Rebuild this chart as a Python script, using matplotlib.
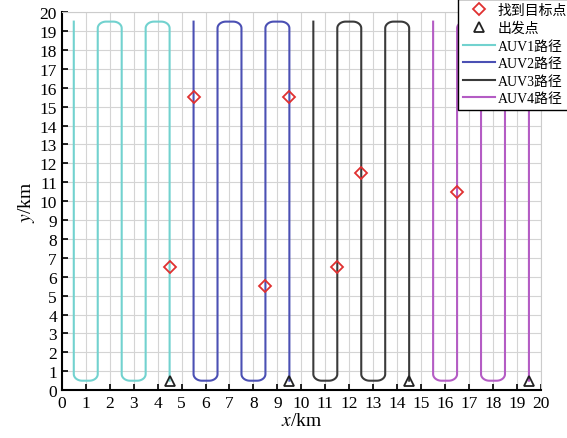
import numpy as np
import matplotlib
matplotlib.use("Agg")
import matplotlib.pyplot as plt

plt.rcParams['font.family'] = ['Liberation Serif', 'Noto Sans CJK SC']
plt.rcParams['mathtext.fontset'] = 'stix'

# sweep lanes of each AUV (km), listed from the start lane
lanes = {
    'AUV1路径': [4.5, 3.5, 2.5, 1.5, 0.5],
    'AUV2路径': [9.5, 8.5, 7.5, 6.5, 5.5],
    'AUV3路径': [14.5, 13.5, 12.5, 11.5, 10.5],
    'AUV4路径': [19.5, 18.5, 17.5, 16.5, 15.5],
}
colors = ['#72d2cf', '#4b50b4', '#3a3a3a', '#b45cc4']
y_low, y_high = 0.5, 19.5

target_x = [4.5, 5.5, 9.5, 8.5, 11.5, 12.5, 16.5]
target_y = [6.5, 15.5, 15.5, 5.5, 6.5, 11.5, 10.5]
start_x = [4.5, 9.5, 14.5, 19.5]
start_y = [0.5, 0.5, 0.5, 0.5]


def sweep_path(xs, r=0.35):
    px, py = [xs[0]], [y_low]
    going_up = True
    for i in range(len(xs) - 1):
        x0, x1 = xs[i], xs[i + 1]
        d = np.sign(x1 - x0)
        t = np.linspace(0, np.pi / 2, 15)
        if going_up:
            yc = y_high - r
            px += list(x0 + d * r - d * r * np.cos(t))
            py += list(yc + r * np.sin(t))
            px += list(x1 - d * r + d * r * np.sin(t))
            py += list(yc + r * np.cos(t))
        else:
            yc = y_low + r
            px += list(x0 + d * r - d * r * np.cos(t))
            py += list(yc - r * np.sin(t))
            px += list(x1 - d * r + d * r * np.sin(t))
            py += list(yc - r * np.cos(t))
        going_up = not going_up
    px.append(xs[-1])
    py.append(y_high if going_up else y_low)
    return px, py


fig = plt.figure(figsize=(5.67, 4.39), dpi=100)
ax = fig.add_axes([0.109, 0.109, 0.845, 0.861])

ax.plot(target_x, target_y, linestyle='none', marker='D', markersize=6,
        markerfacecolor='none', markeredgecolor='#e03030', markeredgewidth=1.3,
        label='找到目标点', zorder=5)
ax.plot(start_x, start_y, linestyle='none', marker='^', markersize=7.5,
        markerfacecolor='none', markeredgecolor='#222222', markeredgewidth=1.3,
        label='出发点', zorder=5)

for (name, xs), c in zip(lanes.items(), colors):
    px, py = sweep_path(xs)
    ax.plot(px, py, color=c, linewidth=1.5, label=name)

ax.set_xlim(0, 20)
ax.set_ylim(0, 20)
ax.set_xticks(range(0, 21))
ax.set_yticks(range(0, 21))
ax.grid(True, color='#d4d4d4', linewidth=0.8)
ax.set_axisbelow(True)
ax.tick_params(direction='in', labelsize=12.5, length=4, width=1.2)
for s in ['left', 'bottom']:
    ax.spines[s].set_linewidth(1.5)
for s in ['top', 'right']:
    ax.spines[s].set_color('#cccccc')

ax.set_xlabel('$x$/km', fontsize=14, labelpad=1)
ax.set_ylabel('$y$/km', fontsize=14, labelpad=2)

leg = ax.legend(loc='upper left', bbox_to_anchor=(458 / 567, 1.0),
                bbox_transform=fig.transFigure, fontsize=10,
                frameon=True, fancybox=False, edgecolor='black', framealpha=1,
                labelspacing=0.33, handlelength=2.3, handletextpad=0.2,
                borderpad=0.35, borderaxespad=0)
leg.get_frame().set_linewidth(1.0)
leg.set_zorder(10)

fig.savefig('out.png', dpi=100)
